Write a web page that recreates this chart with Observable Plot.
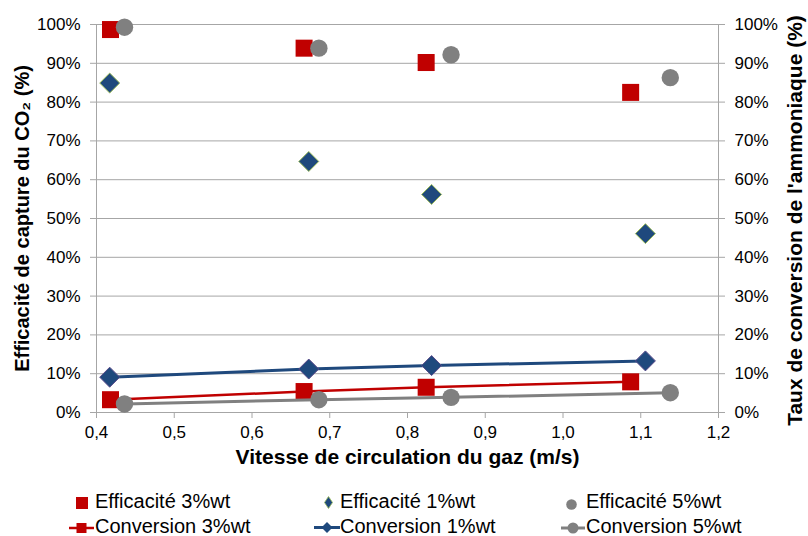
<!DOCTYPE html>
<html>
<head>
<meta charset="utf-8">
<script src="https://cdn.jsdelivr.net/npm/d3@7"></script>
<script src="https://cdn.jsdelivr.net/npm/@observablehq/plot@0.6"></script>
<style>
  html, body { margin: 0; padding: 0; background: #fff; }
  #wrap { position: relative; width: 808px; height: 536px; font-family: "Liberation Sans", Arial, sans-serif; }
  .leg { position: absolute; font-size: 20px; color: #000; white-space: nowrap; line-height: 1; }
  .sym { position: absolute; }
</style>
</head>
<body>
<div id="wrap"></div>
<script>
// ---- Data ----
const xTitle = "Vitesse de circulation du gaz (m/s)";
const yLeftTitle = "Efficacité de capture du CO₂ (%)";
const yRightTitle = "Taux de conversion de l'ammoniaque (%)";
const xTicks = [0.4, 0.5, 0.6, 0.7, 0.8, 0.9, 1.0, 1.1, 1.2];
const yTicks = [0, 0.1, 0.2, 0.3, 0.4, 0.5, 0.6, 0.7, 0.8, 0.9, 1.0];

const speed3 = [0.418, 0.667, 0.824, 1.087];
const speed1 = [0.417, 0.673, 0.831, 1.106];
const speed5 = [0.436, 0.686, 0.856, 1.138];

const eff3 = [0.987, 0.939, 0.902, 0.825];
const eff1 = [0.849, 0.647, 0.562, 0.461];
const eff5 = [0.993, 0.939, 0.922, 0.863];

const conv3 = [0.033, 0.054, 0.065, 0.079];
const conv1 = [0.091, 0.112, 0.121, 0.133];
const conv5 = [0.022, 0.033, 0.039, 0.051];

const seriesNames = ["Efficacité 3%wt", "Efficacité 1%wt", "Efficacité 5%wt",
                     "Conversion 3%wt", "Conversion 1%wt", "Conversion 5%wt"];

// ---- Build tables ----
const pts = (xs, ys) => xs.map((x, i) => ({x, y: ys[i]}));
const dEff3 = pts(speed3, eff3), dEff1 = pts(speed1, eff1), dEff5 = pts(speed5, eff5);
const dConv3 = pts(speed3, conv3), dConv1 = pts(speed1, conv1), dConv5 = pts(speed5, conv5);

const RED = "#c00000", BLUE = "#1f497d", GREY = "#808080", GRID = "#a6a6a6";

// custom symbols sized so that size = pi*r^2
const square = {draw(ctx, size) { const s = Math.sqrt(size) / 2; ctx.rect(-s, -s, 2 * s, 2 * s); }};
const diamond = {draw(ctx, size) { const h = Math.sqrt(size) * 0.62625; ctx.moveTo(0, -h); ctx.lineTo(h, 0); ctx.lineTo(0, h); ctx.lineTo(-h, 0); ctx.closePath(); }};

const fmtX = d => d.toFixed(1).replace(".", ",");
const fmtY = d => Math.round(d * 100) + "%";

const chart = Plot.plot({
  width: 808,
  height: 480,
  marginLeft: 96,
  marginRight: 90,
  marginTop: 24,
  marginBottom: 68,
  x: {domain: [0.4, 1.2]},
  y: {domain: [0, 1]},
  style: {fontFamily: "'Liberation Sans', Arial, sans-serif", fontSize: "17px", color: "#000", background: "#fff"},
  marks: [
    Plot.ruleY(yTicks, {stroke: GRID, strokeWidth: 1}),
    Plot.ruleX([xTicks[0], xTicks[xTicks.length - 1]], {stroke: GRID, strokeWidth: 1}),
    Plot.axisY({anchor: "left", ticks: yTicks, tickFormat: fmtY, tickSize: 6, tickPadding: 10, stroke: GRID, fill: "#000", label: null}),
    Plot.axisY({anchor: "right", ticks: yTicks, tickFormat: fmtY, tickSize: 6, tickPadding: 10, stroke: GRID, fill: "#000", label: null}),
    Plot.axisX({ticks: xTicks, tickFormat: fmtX, tickSize: 6, tickPadding: 7, stroke: GRID, fill: "#000", label: null}),
    Plot.text([yLeftTitle], {text: d => d, frameAnchor: "left", textAnchor: "middle", dx: -74, rotate: -90, fontWeight: "bold", fontSize: 20}),
    Plot.text([yRightTitle], {text: d => d, frameAnchor: "right", textAnchor: "middle", dx: 77, dy: 2, rotate: -90, fontWeight: "bold", fontSize: 21}),
    Plot.text([xTitle], {text: d => d, frameAnchor: "bottom", textAnchor: "middle", dy: 51, fontWeight: "bold", fontSize: 21}),
    // Efficacité (markers only)
    Plot.dot(dEff3, {x: "x", y: "y", symbol: square, r: 9.6, fill: RED, stroke: "none"}),
    Plot.dot(dEff1, {x: "x", y: "y", symbol: diamond, r: 9, fill: BLUE, stroke: "#9bbb59", strokeWidth: 1}),
    Plot.dot(dEff5, {x: "x", y: "y", symbol: "circle", r: 8.7, fill: GREY, stroke: "none"}),
    // Conversion (lines + markers)
    Plot.line(dConv3, {x: "x", y: "y", stroke: RED, strokeWidth: 2.5}),
    Plot.dot(dConv3, {x: "x", y: "y", symbol: square, r: 9.6, fill: RED, stroke: "none"}),
    Plot.line(dConv1, {x: "x", y: "y", stroke: BLUE, strokeWidth: 3}),
    Plot.dot(dConv1, {x: "x", y: "y", symbol: diamond, r: 9, fill: BLUE, stroke: "#5a4a8a", strokeWidth: 1}),
    Plot.line(dConv5, {x: "x", y: "y", stroke: GREY, strokeWidth: 3}),
    Plot.dot(dConv5, {x: "x", y: "y", symbol: "circle", r: 8.7, fill: GREY, stroke: "none"})
  ]
});

const wrap = document.getElementById("wrap");
chart.style.position = "absolute";
chart.style.left = "0px";
chart.style.top = "0px";
wrap.appendChild(chart);

// ---- Legend (HTML) ----
const legendItems = [
  {name: seriesNames[0], left: 95, top: 501, sym: `<svg width="12" height="12"><rect width="12" height="12" fill="${RED}"/></svg>`, sx: 76, sw: 12, sh: 12},
  {name: seriesNames[1], left: 340, top: 501, sym: `<svg width="9" height="13"><path d="M4.5,0.5L8.5,6.5L4.5,12.5L0.5,6.5Z" fill="${BLUE}" stroke="#9bbb59" stroke-width="0.8"/></svg>`, sx: 324, sw: 9, sh: 13},
  {name: seriesNames[2], left: 586, top: 501, sym: `<svg width="11" height="11"><circle cx="5.5" cy="5.5" r="5.3" fill="${GREY}"/></svg>`, sx: 566, sw: 11, sh: 11},
  {name: seriesNames[3], left: 95, top: 526, sym: `<svg width="25" height="12"><line x1="0" y1="6" x2="25" y2="6" stroke="${RED}" stroke-width="2.5"/><rect x="7.5" y="1" width="10" height="10" fill="${RED}"/></svg>`, sx: 69, sw: 25, sh: 12},
  {name: seriesNames[4], left: 340, top: 526, sym: `<svg width="26" height="13"><line x1="0" y1="6.5" x2="26" y2="6.5" stroke="${BLUE}" stroke-width="3"/><path d="M13,1L18.5,6.5L13,12L7.5,6.5Z" fill="${BLUE}"/></svg>`, sx: 314, sw: 26, sh: 13},
  {name: seriesNames[5], left: 586, top: 526, sym: `<svg width="24" height="12"><line x1="0" y1="6" x2="24" y2="6" stroke="${GREY}" stroke-width="3"/><circle cx="12" cy="6" r="5.5" fill="${GREY}"/></svg>`, sx: 561, sw: 24, sh: 12}
];
for (const it of legendItems) {
  const s = document.createElement("div");
  s.className = "sym";
  s.style.left = it.sx + "px";
  s.style.top = (it.top - it.sh / 2) + "px";
  s.style.width = it.sw + "px";
  s.style.height = it.sh + "px";
  s.innerHTML = it.sym;
  wrap.appendChild(s);
  const t = document.createElement("div");
  t.className = "leg";
  t.style.left = it.left + "px";
  t.style.top = (it.top - 10) + "px";
  t.textContent = it.name;
  wrap.appendChild(t);
}
</script>
</body>
</html>
